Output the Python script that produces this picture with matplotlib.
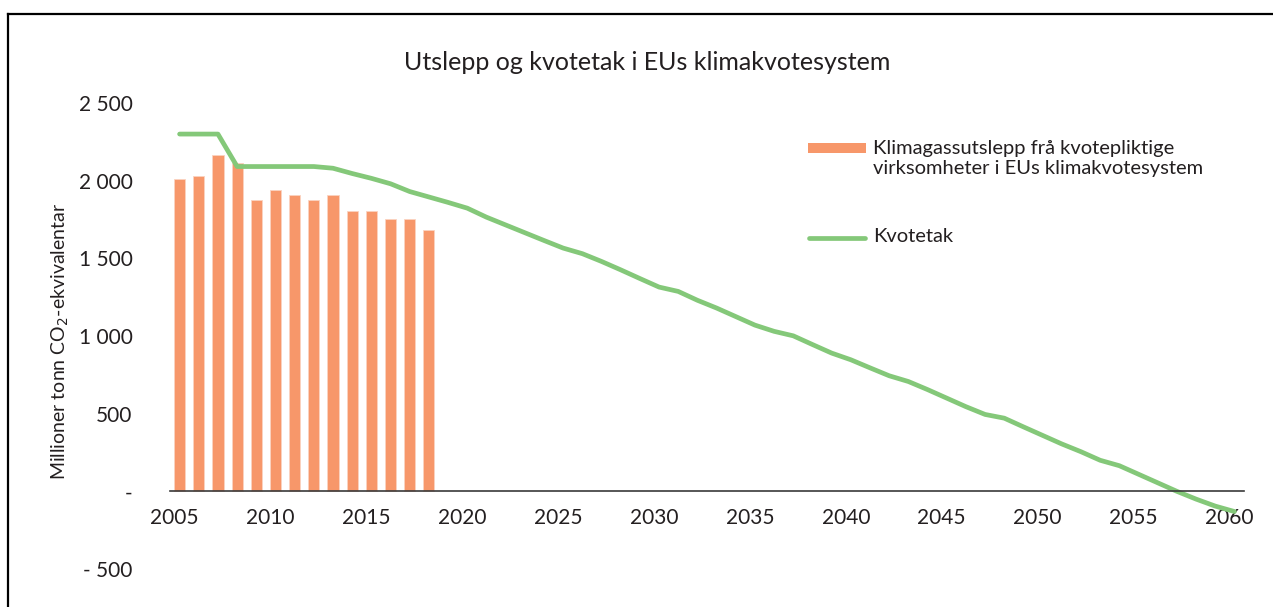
import matplotlib
matplotlib.use("Agg")
import matplotlib.pyplot as plt
from matplotlib.lines import Line2D
from matplotlib.patches import Rectangle
import matplotlib.transforms as mtransforms

plt.rcParams['font.family'] = ['Lato', 'DejaVu Sans']

# ---- data ----
emission_years = list(range(2005, 2019))
emissions = [2010, 2027, 2165, 2115, 1873, 1941, 1907, 1873, 1907,
             1804, 1804, 1753, 1753, 1684]

cap_years = list(range(2005, 2061))
cap = [2300, 2300, 2300, 2091, 2091, 2091, 2091, 2091, 2080, 2046,
       2015, 1980, 1930, 1895, 1860, 1823, 1765, 1715, 1665, 1615,
       1566, 1530, 1480, 1426, 1370, 1315, 1287, 1230, 1180, 1125,
       1070, 1030, 1001, 945, 890, 847, 795, 744, 707, 655,
       600, 545, 495, 471, 415, 360, 305, 255, 200, 165,
       110, 55, 0, -50, -95, -130]

x_ticks = list(range(2005, 2061, 5))
y_ticks = [-500, 0, 500, 1000, 1500, 2000, 2500]
y_tick_labels = ['- 500', '-', '500', '1 000', '1 500', '2 000', '2 500']

title = 'Utslepp og kvotetak i EUs klimakvotesystem'
ylabel = r'Millioner tonn CO$_2$-ekvivalentar'
bar_label = 'Klimagassutslepp frå kvotepliktige\nvirksomheter i EUs klimakvotesystem'
line_label = 'Kvotetak'

bar_color = '#F7976A'
line_color = '#84C879'
text_color = '#231F20'

W, H = 1273, 607
fig = plt.figure(figsize=(W / 100, H / 100), dpi=100)
ax = fig.add_axes([170 / W, (H - 569) / H, 1074 / W, 466 / H])

ax.bar(emission_years, emissions, width=0.58, color=bar_color,
       edgecolor='#FBD3C0', linewidth=0.6, zorder=2)
ax.plot(cap_years, cap, color=line_color, linewidth=3.4,
        solid_capstyle='round', solid_joinstyle='round', zorder=3)

ax.set_xlim(2004.5, 2060.5)
ax.set_ylim(-500, 2500)

for s in ['top', 'right', 'left']:
    ax.spines[s].set_visible(False)
ax.spines['bottom'].set_position(('data', 0))
ax.spines['bottom'].set_color('#3a3a3a')
ax.spines['bottom'].set_linewidth(1.2)
ax.spines['bottom'].set_zorder(4)

ax.set_xticks(x_ticks)
ax.set_xticklabels([str(t) for t in x_ticks])
ax.set_yticks(y_ticks)
ax.set_yticklabels(y_tick_labels)
ax.tick_params(axis='x', length=0, pad=12, labelsize=15, labelcolor=text_color)
ax.tick_params(axis='y', length=0, pad=27, labelsize=15, labelcolor=text_color)

# shift x labels slightly left as in reference
offset = mtransforms.ScaledTranslation(-5 / 100, 0, fig.dpi_scale_trans)
for lab in ax.get_xticklabels():
    lab.set_transform(lab.get_transform() + offset)

ax.set_ylabel(ylabel, fontsize=14, color=text_color, labelpad=0)
ax.yaxis.set_label_coords(71 / W, (H - 341) / H, transform=fig.transFigure)

fig.text(647 / W, 1 - 62 / H, title, ha='center', va='center',
         fontsize=18, color=text_color)

# legend (drawn manually to mimic the reference layout)
tf = fig.transFigure
fig.add_artist(Rectangle((808 / W, 1 - 153 / H), 58 / W, 10 / H,
                         transform=tf, facecolor=bar_color, edgecolor='none'))
fig.text(873 / W, 1 - 158.5 / H, bar_label, ha='left', va='center',
         fontsize=14.5, color=text_color, linespacing=1.15)
fig.add_artist(Line2D([809 / W, 865 / W], [1 - 238 / H, 1 - 238 / H],
                      transform=tf, color=line_color, lw=3.4,
                      solid_capstyle='round'))
fig.text(873 / W, 1 - 237 / H, line_label, ha='left', va='center',
         fontsize=14.5, color=text_color)

# outer frame (left and top)
fig.add_artist(Line2D([8 / W, 8 / W], [0, 1 - 14 / H], transform=tf,
                      color='black', lw=1.6))
fig.add_artist(Line2D([8 / W, 1], [1 - 14 / H, 1 - 14 / H], transform=tf,
                      color='black', lw=1.6))

fig.savefig('out.png', dpi=100)
